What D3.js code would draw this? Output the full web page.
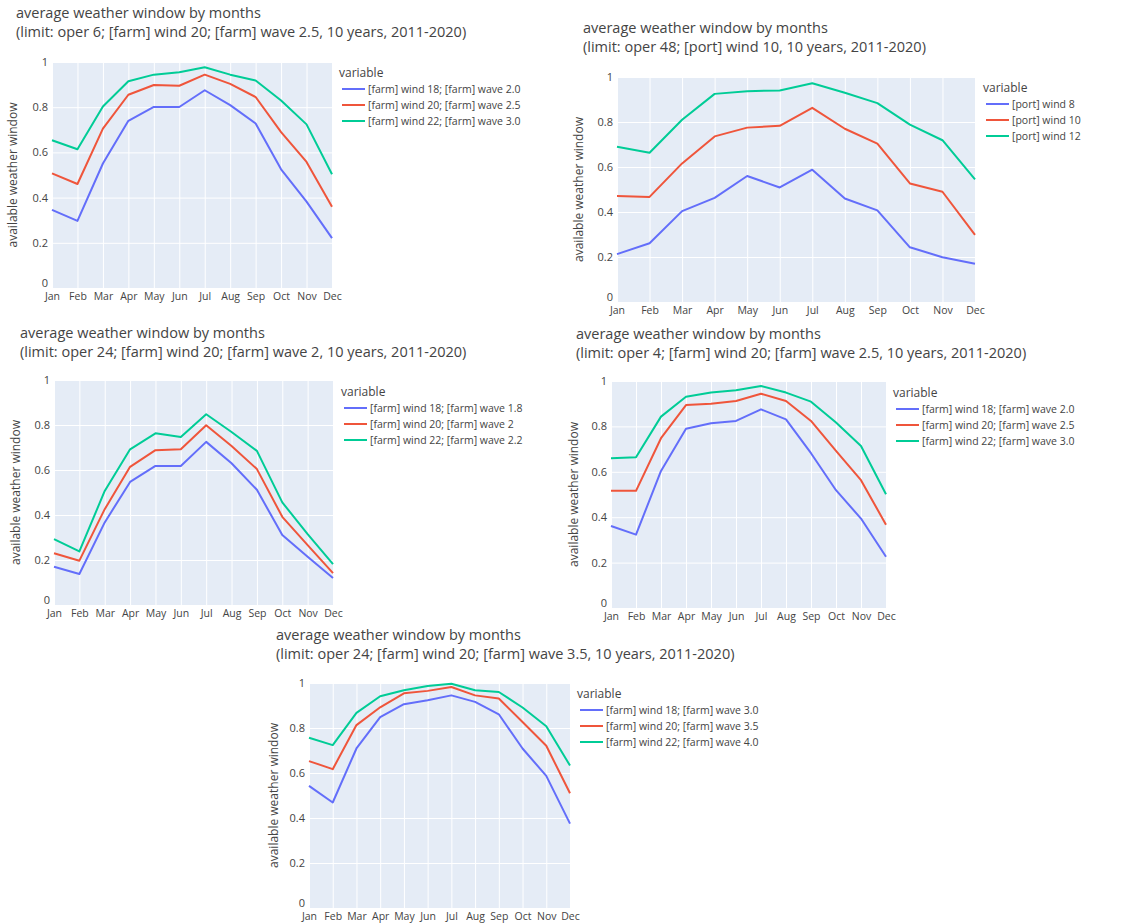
<!DOCTYPE html>
<html>
<head>
<meta charset="utf-8">
<script src="https://cdn.jsdelivr.net/npm/d3@7"></script>
<style>
  body { margin: 0; background: #fff; }
  svg { display: block; font-family: "Open Sans", "DejaVu Sans", sans-serif; }
</style>
</head>
<body>
<svg id="chart" width="1131" height="923"></svg>
<script>
// data
const months = ["Jan", "Feb", "Mar", "Apr", "May", "Jun", "Jul", "Aug", "Sep", "Oct", "Nov", "Dec"];
const yTicks = [0, 0.2, 0.4, 0.6, 0.8, 1];

const titleLine1 = "average weather window by months";
const subtitles = [
  "(limit: oper 6; [farm] wind 20; [farm] wave 2.5, 10 years, 2011-2020)",
  "(limit: oper 48; [port] wind 10, 10 years, 2011-2020)",
  "(limit: oper 24; [farm] wind 20; [farm] wave 2, 10 years, 2011-2020)",
  "(limit: oper 4; [farm] wind 20; [farm] wave 2.5, 10 years, 2011-2020)",
  "(limit: oper 24; [farm] wind 20; [farm] wave 3.5, 10 years, 2011-2020)"
];

const legend1 = ["[farm] wind 18; [farm] wave 2.0", "[farm] wind 20; [farm] wave 2.5", "[farm] wind 22; [farm] wave 3.0"];
const legend2 = ["[port] wind 8", "[port] wind 10", "[port] wind 12"];
const legend3 = ["[farm] wind 18; [farm] wave 1.8", "[farm] wind 20; [farm] wave 2", "[farm] wind 22; [farm] wave 2.2"];
const legend4 = ["[farm] wind 18; [farm] wave 2.0", "[farm] wind 20; [farm] wave 2.5", "[farm] wind 22; [farm] wave 3.0"];
const legend5 = ["[farm] wind 18; [farm] wave 3.0", "[farm] wind 20; [farm] wave 3.5", "[farm] wind 22; [farm] wave 4.0"];

const p1Low  = [0.346, 0.297, 0.551, 0.740, 0.801, 0.801, 0.875, 0.809, 0.728, 0.525, 0.382, 0.221];
const p1Mid  = [0.507, 0.460, 0.705, 0.855, 0.898, 0.895, 0.944, 0.903, 0.845, 0.690, 0.558, 0.360];
const p1High = [0.654, 0.614, 0.803, 0.915, 0.944, 0.955, 0.977, 0.944, 0.918, 0.830, 0.724, 0.503];

const p2Low  = [0.213, 0.261, 0.404, 0.463, 0.560, 0.509, 0.588, 0.460, 0.407, 0.243, 0.199, 0.170];
const p2Mid  = [0.471, 0.467, 0.616, 0.736, 0.775, 0.783, 0.863, 0.770, 0.704, 0.527, 0.490, 0.298];
const p2High = [0.690, 0.663, 0.810, 0.925, 0.937, 0.940, 0.972, 0.930, 0.884, 0.788, 0.719, 0.545];

const p3Low  = [0.170, 0.138, 0.367, 0.547, 0.618, 0.618, 0.725, 0.630, 0.512, 0.311, 0.214, 0.120];
const p3Mid  = [0.230, 0.197, 0.426, 0.614, 0.688, 0.692, 0.799, 0.707, 0.604, 0.392, 0.266, 0.142];
const p3High = [0.293, 0.238, 0.507, 0.692, 0.763, 0.747, 0.848, 0.769, 0.685, 0.456, 0.315, 0.182];

const p4Low  = [0.361, 0.323, 0.604, 0.790, 0.814, 0.824, 0.875, 0.831, 0.682, 0.519, 0.394, 0.226];
const p4Mid  = [0.516, 0.516, 0.748, 0.894, 0.900, 0.912, 0.944, 0.912, 0.824, 0.692, 0.563, 0.367];
const p4High = [0.660, 0.664, 0.843, 0.931, 0.949, 0.959, 0.978, 0.949, 0.909, 0.817, 0.714, 0.501];

const p5Low  = [0.543, 0.469, 0.709, 0.848, 0.906, 0.923, 0.945, 0.916, 0.861, 0.709, 0.587, 0.375];
const p5Mid  = [0.653, 0.617, 0.813, 0.892, 0.954, 0.965, 0.982, 0.945, 0.931, 0.827, 0.721, 0.510];
const p5High = [0.757, 0.724, 0.867, 0.941, 0.968, 0.987, 0.997, 0.968, 0.960, 0.891, 0.808, 0.633];

const colors = ["#636efa", "#ef553b", "#00cc96"];

// where each panel sits on the page
const panels = [
  { series: [p1Low, p1Mid, p1High], names: legend1, sub: subtitles[0],
    x0: 52, x1: 332, yTop: 62, yBot: 288, titleX: 16, titleY: 18, legX: 339, legY: 72, yTitleX: 12 },
  { series: [p2Low, p2Mid, p2High], names: legend2, sub: subtitles[1],
    x0: 617, x1: 975, yTop: 77, yBot: 302, titleX: 583, titleY: 33, legX: 983, legY: 87, yTitleX: 578 },
  { series: [p3Low, p3Mid, p3High], names: legend3, sub: subtitles[2],
    x0: 54, x1: 333, yTop: 380, yBot: 605, titleX: 20, titleY: 338, legX: 341, legY: 391, yTitleX: 15 },
  { series: [p4Low, p4Mid, p4High], names: legend4, sub: subtitles[3],
    x0: 611, x1: 886, yTop: 381, yBot: 608, titleX: 576, titleY: 339, legX: 893, legY: 392, yTitleX: 573 },
  { series: [p5Low, p5Mid, p5High], names: legend5, sub: subtitles[4],
    x0: 309, x1: 570, yTop: 683, yBot: 908, titleX: 276, titleY: 640, legX: 577, legY: 693, yTitleX: 273 }
];

const svg = d3.select("#chart");

panels.forEach(function(p) {
  const g = svg.append("g");

  const x = d3.scalePoint().domain(months).range([p.x0, p.x1]);
  const y = d3.scaleLinear().domain([0, 1]).range([p.yBot, p.yTop]);

  // titles
  g.append("text")
    .attr("x", p.titleX).attr("y", p.titleY)
    .attr("font-size", 14.5).attr("fill", "#444")
    .text(titleLine1);
  g.append("text")
    .attr("x", p.titleX).attr("y", p.titleY + 19)
    .attr("font-size", 14.5).attr("fill", "#444")
    .text(p.sub);

  // plot background
  g.append("rect")
    .attr("x", p.x0).attr("y", p.yTop)
    .attr("width", p.x1 - p.x0).attr("height", p.yBot - p.yTop)
    .attr("fill", "#e5ecf6");

  // grid lines
  g.append("g")
    .attr("transform", "translate(0," + p.yBot + ")")
    .call(d3.axisBottom(x).tickSize(-(p.yBot - p.yTop)).tickFormat(""))
    .call(a => a.select(".domain").remove())
    .call(a => a.selectAll("line").attr("stroke", "#fff").attr("stroke-width", 1));
  g.append("g")
    .attr("transform", "translate(" + p.x0 + ",0)")
    .call(d3.axisLeft(y).tickValues(yTicks).tickSize(-(p.x1 - p.x0)).tickFormat(""))
    .call(a => a.select(".domain").remove())
    .call(a => a.selectAll("line").attr("stroke", "#fff").attr("stroke-width", 1));

  // tick labels
  const xAxis = g.append("g")
    .attr("transform", "translate(0," + p.yBot + ")")
    .call(d3.axisBottom(x).tickSize(0).tickPadding(5));
  xAxis.select(".domain").remove();
  xAxis.selectAll("text").attr("font-size", 10.5).attr("fill", "#444")
    .attr("font-family", "\"Open Sans\", sans-serif");

  const yAxis = g.append("g")
    .attr("transform", "translate(" + p.x0 + ",0)")
    .call(d3.axisLeft(y).tickValues(yTicks).tickSize(0).tickPadding(4).tickFormat(d3.format("~g")));
  yAxis.select(".domain").remove();
  yAxis.selectAll("text").attr("font-size", 11).attr("fill", "#444")
    .attr("font-family", "\"Open Sans\", sans-serif");
  // lift the "0" label a little, it sits right on top of "Jan"
  yAxis.selectAll(".tick").filter(d => d === 0).select("text").attr("dy", "-0.1em");

  // y axis title
  g.append("text")
    .attr("transform", "translate(" + p.yTitleX + "," + ((p.yTop + p.yBot) / 2) + ") rotate(-90)")
    .attr("text-anchor", "middle").attr("dominant-baseline", "central")
    .attr("font-size", 12).attr("fill", "#444")
    .text("available weather window");

  // lines
  const line = d3.line()
    .x((d, i) => x(months[i]))
    .y(d => y(d));
  p.series.forEach(function(s, i) {
    g.append("path")
      .datum(s)
      .attr("d", line)
      .attr("fill", "none")
      .attr("stroke", colors[i])
      .attr("stroke-width", 2)
      .attr("stroke-linejoin", "round");
  });

  // legend
  const leg = g.append("g").attr("transform", "translate(" + p.legX + "," + p.legY + ")");
  leg.append("text")
    .attr("x", 0).attr("y", 0)
    .attr("dominant-baseline", "central")
    .attr("font-size", 12).attr("fill", "#444")
    .text("variable");
  p.names.forEach(function(n, i) {
    const yy = 17 + i * 16;
    leg.append("line")
      .attr("x1", 3).attr("x2", 26).attr("y1", yy).attr("y2", yy)
      .attr("stroke", colors[i]).attr("stroke-width", 2);
    leg.append("text")
      .attr("x", 29).attr("y", yy)
      .attr("dominant-baseline", "central")
      .attr("font-size", 10.5).attr("fill", "#444")
      .text(n);
  });
});
</script>
</body>
</html>
